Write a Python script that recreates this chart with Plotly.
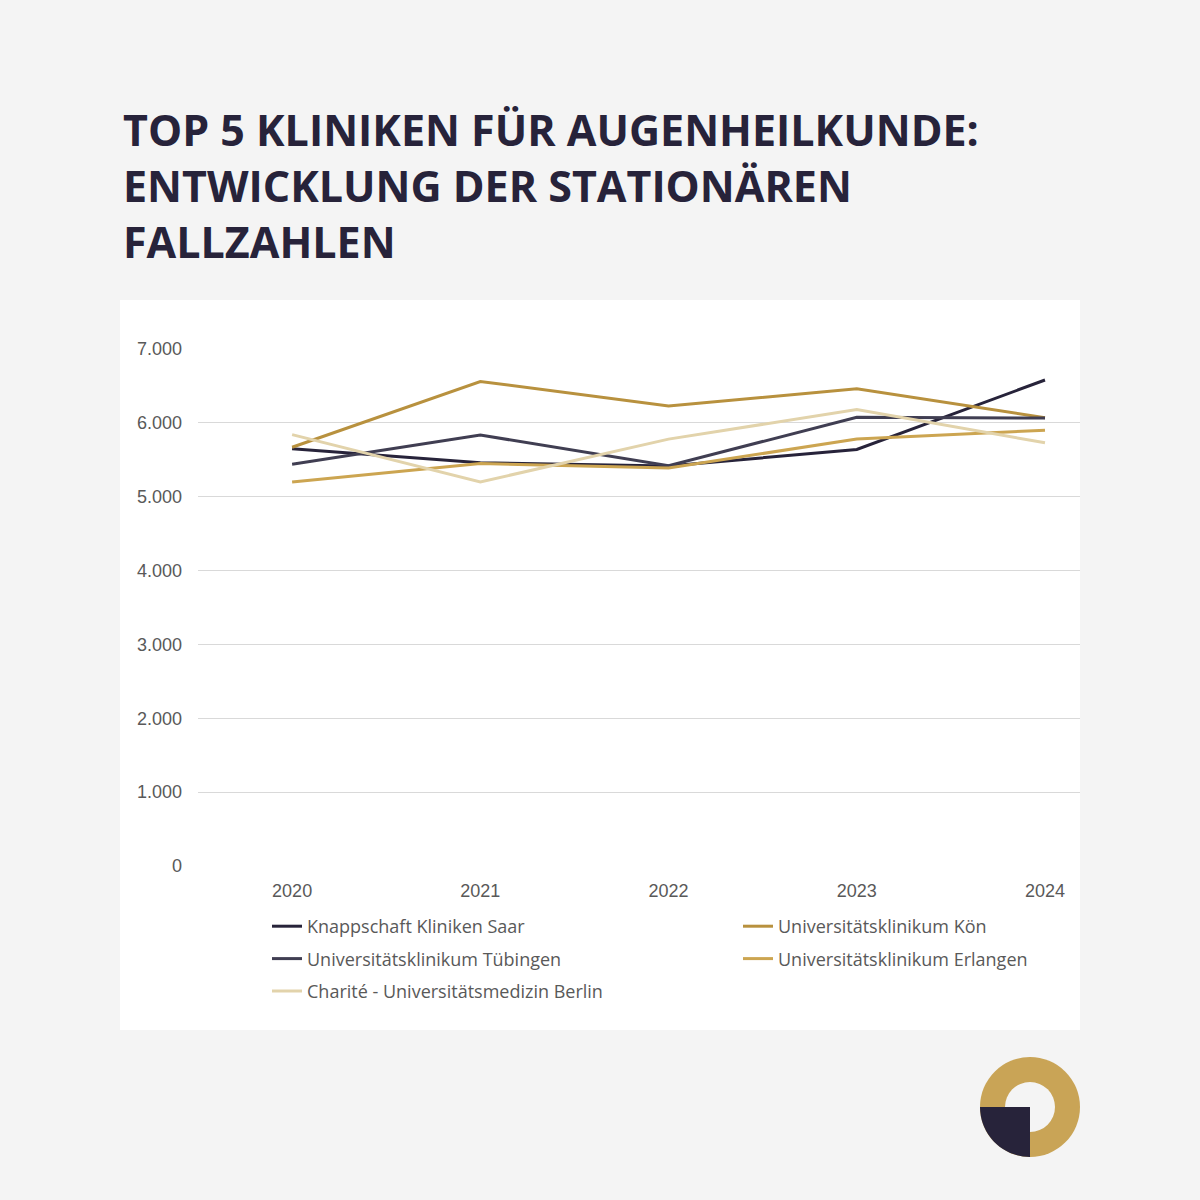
import plotly.graph_objects as go

years = ["2020", "2021", "2022", "2023", "2024"]
series_names = [
    "Knappschaft Kliniken Saar",
    "Universitätsklinikum Kön",
    "Universitätsklinikum Tübingen",
    "Universitätsklinikum Erlangen",
    "Charité - Universitätsmedizin Berlin",
]
knappschaft = [5650, 5460, 5415, 5640, 6580]
koeln = [5670, 6560, 6230, 6460, 6070]
tuebingen = [5440, 5835, 5420, 6075, 6065]
erlangen = [5200, 5450, 5390, 5780, 5900]
charite = [5840, 5200, 5780, 6180, 5730]
y_tick_vals = [0, 1000, 2000, 3000, 4000, 5000, 6000, 7000]
y_tick_text = ["0", "1.000", "2.000", "3.000", "4.000", "5.000", "6.000", "7.000"]

series_values = [knappschaft, koeln, tuebingen, erlangen, charite]
colors = ["#27233a", "#b8913e", "#403e52", "#cca551", "#e2d3ab"]
legend_ids = ["legend", "legend2", "legend", "legend2", "legend"]

W, H = 1200, 1200
L, R, T, B = 198, 1080, 349, 866  # plot area in pixels


def px(x):
    return (x - L) / (R - L)


def py(y):
    return (B - y) / (B - T)


fig = go.Figure()
xpos = list(range(len(years)))
for i, (name, vals, col, lg) in enumerate(zip(series_names, series_values, colors, legend_ids)):
    fig.add_trace(go.Scatter(x=xpos, y=vals, mode="lines", name=name,
                             legend=lg, legendgroup=f"g{i}",
                             line=dict(color=col, width=3)))

shapes = [
    dict(type="rect", xref="paper", yref="paper", x0=px(120), x1=px(1080),
         y0=py(1030), y1=py(300), fillcolor="white", line=dict(width=0), layer="below"),
]
cx, cy = px(1030), py(1107)
shapes += [
    dict(type="circle", xref="paper", yref="paper", xsizemode="pixel", ysizemode="pixel",
         xanchor=cx, yanchor=cy, x0=-50, x1=50, y0=-50, y1=50,
         fillcolor="#c9a456", line=dict(width=0)),
    dict(type="circle", xref="paper", yref="paper", xsizemode="pixel", ysizemode="pixel",
         xanchor=cx, yanchor=cy, x0=-25, x1=25, y0=-25, y1=25,
         fillcolor="#f4f4f4", line=dict(width=0)),
    dict(type="path", xref="paper", yref="paper", xsizemode="pixel", ysizemode="pixel",
         xanchor=cx, yanchor=cy,
         path="M 0,0 L -50,0 C -50,-27.6 -27.6,-50 0,-50 Z",
         fillcolor="#27233a", line=dict(width=0)),
]

legend_common = dict(orientation="v", yanchor="top", xanchor="left",
                     font=dict(family="Open Sans", size=18, color="#595959"),
                     bgcolor="rgba(0,0,0,0)", itemwidth=30, tracegroupgap=6,
                     traceorder="grouped")

fig.update_layout(
    width=W, height=H,
    margin=dict(l=L, r=W - R, t=T, b=H - B),
    paper_bgcolor="#f4f4f4",
    plot_bgcolor="rgba(0,0,0,0)",
    font=dict(family="Liberation Sans", color="#595959", size=18),
    shapes=shapes,
    showlegend=True,
    legend=dict(x=px(267), y=py(908), **legend_common),
    legend2=dict(x=px(738), y=py(908), **legend_common),
    annotations=[
        dict(text="TOP 5 KLINIKEN FÜR AUGENHEILKUNDE:<br>ENTWICKLUNG DER STATIONÄREN<br>FALLZAHLEN",
             xref="paper", yref="paper", x=px(121), y=py(98), xanchor="left", yanchor="top",
             align="left", showarrow=False,
             font=dict(family="Open Sans", size=43, color="#27233a", weight=700)),
    ],
)
fig.update_xaxes(range=[-0.5, (R - 292) / 188.25], tickvals=xpos, ticktext=years,
                 showgrid=False, zeroline=False, showline=False, ticks="",
                 ticklabelstandoff=12, tickfont=dict(size=18, color="#595959"))
fig.update_yaxes(range=[0, 7000], tickvals=y_tick_vals, ticktext=y_tick_text,
                 showgrid=True, gridcolor="#d9d9d9", gridwidth=1, zeroline=False,
                 showline=False, ticks="", ticklabelstandoff=15,
                 tickfont=dict(size=18, color="#595959"))

fig.write_html("out.html")
